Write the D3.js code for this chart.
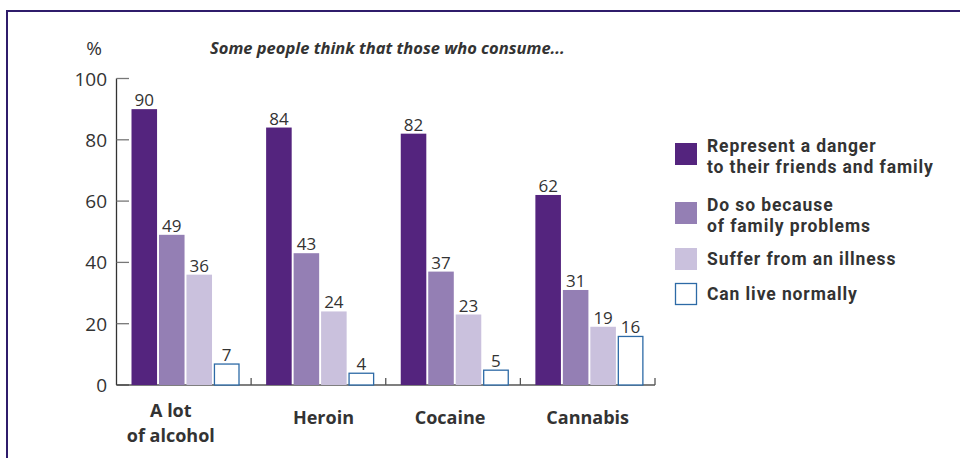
<!DOCTYPE html>
<html>
<head>
<meta charset="UTF-8">
<title>Consumption perceptions</title>
<script src="https://cdn.jsdelivr.net/npm/d3@7"></script>
<style>
  body { margin: 0; background: #fff; }
  svg text { font-family: "Open Sans", "Noto Sans", sans-serif; fill: #333; }
  svg text.legend-label { font-family: Roboto, "Open Sans", sans-serif; letter-spacing: 0.9px; }
</style>
</head>
<body>
<div id="chart"></div>
<script>
var categories = ['A lot\nof alcohol', 'Heroin', 'Cocaine', 'Cannabis'];
var seriesNames = ['Represent a danger\nto their friends and family', 'Do so because\nof family problems', 'Suffer from an illness', 'Can live normally'];
var danger = [90, 84, 82, 62];
var familyProblems = [49, 43, 37, 31];
var illness = [36, 24, 23, 19];
var liveNormally = [7, 4, 5, 16];
var yTicks = [0, 20, 40, 60, 80, 100];

var seriesValues = [danger, familyProblems, illness, liveNormally];
var fills = ['#54247e', '#947fb4', '#cac1dd', '#fff'];
var strokes = ['none', 'none', 'none', '#2d6aa6'];
// small horizontal nudges of the category labels, as placed in the original
var labelNudge = [-13, 5, -3, 0];

var width = 960, height = 458;
var svg = d3.select('#chart').append('svg')
    .attr('width', width)
    .attr('height', height);

// frame
svg.append('path')
    .attr('d', 'M7,458 V11 H960')
    .attr('fill', 'none')
    .attr('stroke', '#2f1c6b')
    .attr('stroke-width', 2);

var x0 = d3.scaleBand().domain(d3.range(categories.length)).range([116.5, 655]);
var x1 = d3.scaleBand().domain(d3.range(seriesNames.length)).range([15, 123]).paddingInner(0.07);
var y = d3.scaleLinear().domain([0, 100]).range([385, 78.5]);

// y axis
var gy = svg.append('g');
gy.append('line')
    .attr('x1', 116.5).attr('x2', 116.5)
    .attr('y1', y(100)).attr('y2', y(0))
    .attr('stroke', '#333').attr('stroke-width', 1.3);
gy.selectAll('line.tick').data(yTicks).enter().append('line')
    .attr('class', 'tick')
    .attr('x1', 116.5).attr('x2', 129)
    .attr('y1', function(d) { return y(d); })
    .attr('y2', function(d) { return y(d); })
    .attr('stroke', function(d) { return d === 0 ? '#333' : '#777'; })
    .attr('stroke-width', 1.3);
gy.selectAll('text').data(yTicks).enter().append('text')
    .attr('x', 107)
    .attr('y', function(d) { return y(d) + 7; })
    .attr('text-anchor', 'end')
    .style('font-size', '19px')
    .text(function(d) { return d; });

svg.append('text')
    .attr('x', 94).attr('y', 55)
    .attr('text-anchor', 'middle')
    .style('font-size', '19px')
    .text('%');

svg.append('text')
    .attr('x', 210).attr('y', 54)
    .style('font-size', '16.5px')
    .style('font-style', 'italic')
    .style('font-weight', 'bold')
    .text('Some people think that those who consume...');

// x axis
svg.append('line')
    .attr('x1', 116.5).attr('x2', 655)
    .attr('y1', y(0)).attr('y2', y(0))
    .attr('stroke', '#555').attr('stroke-width', 1.3);
svg.selectAll('line.xtick').data(d3.range(categories.length)).enter().append('line')
    .attr('class', 'xtick')
    .attr('x1', function(i) { return x0(i) + x0.bandwidth(); })
    .attr('x2', function(i) { return x0(i) + x0.bandwidth(); })
    .attr('y1', y(0)).attr('y2', y(0) - 7)
    .attr('stroke', '#555').attr('stroke-width', 1.3);

// bars
var groups = svg.selectAll('g.group').data(categories).enter().append('g')
    .attr('class', 'group')
    .attr('transform', function(d, i) { return 'translate(' + x0(i) + ',0)'; });

groups.each(function(cat, ci) {
    var g = d3.select(this);
    seriesValues.forEach(function(vals, si) {
        var v = vals[ci];
        var outline = strokes[si] !== 'none';
        g.append('rect')
            .attr('x', x1(si) + (outline ? 0.5 : 0))
            .attr('y', y(v) + (outline ? 0.5 : 0))
            .attr('width', x1.bandwidth() - (outline ? 1 : 0))
            .attr('height', y(0) - y(v) - (outline ? 0.5 : 0))
            .attr('fill', fills[si])
            .attr('stroke', strokes[si])
            .attr('stroke-width', 1.3);
        g.append('text')
            .attr('x', x1(si) + x1.bandwidth() / 2)
            .attr('y', y(v) - 3)
            .attr('text-anchor', 'middle')
            .style('font-size', '17px')
            .text(v);
    });
    var lines = cat.split('\n');
    var cx = x0.bandwidth() / 2 + labelNudge[ci];
    lines.forEach(function(line, li) {
        g.append('text')
            .attr('x', cx)
            .attr('y', (lines.length > 1 ? 417 : 424) + li * 25)
            .attr('text-anchor', 'middle')
            .style('font-size', '18px')
            .style('font-weight', 'bold')
            .text(line);
    });
});

// legend
var legendY = [143, 202, 248, 283];
var legend = svg.selectAll('g.legend').data(seriesNames).enter().append('g')
    .attr('class', 'legend')
    .attr('transform', function(d, i) { return 'translate(675,' + legendY[i] + ')'; });
legend.append('rect')
    .attr('x', function(d, i) { return i === 3 ? 0.5 : 0; })
    .attr('y', function(d, i) { return i === 3 ? 0.5 : 0; })
    .attr('width', function(d, i) { return i === 3 ? 21 : 22; })
    .attr('height', function(d, i) { return i === 3 ? 21 : 22; })
    .attr('fill', function(d, i) { return fills[i]; })
    .attr('stroke', function(d, i) { return strokes[i]; })
    .attr('stroke-width', 1.3);
legend.each(function(name) {
    var g = d3.select(this);
    var lines = name.split('\n');
    lines.forEach(function(line, li) {
        g.append('text')
            .attr('class', 'legend-label')
            .attr('x', 32)
            .attr('y', (lines.length > 1 ? 9 : 17) + li * 20.5)
            .style('font-size', '17.5px')
            .style('font-weight', 'bold')
            .text(line);
    });
});
</script>
</body>
</html>
